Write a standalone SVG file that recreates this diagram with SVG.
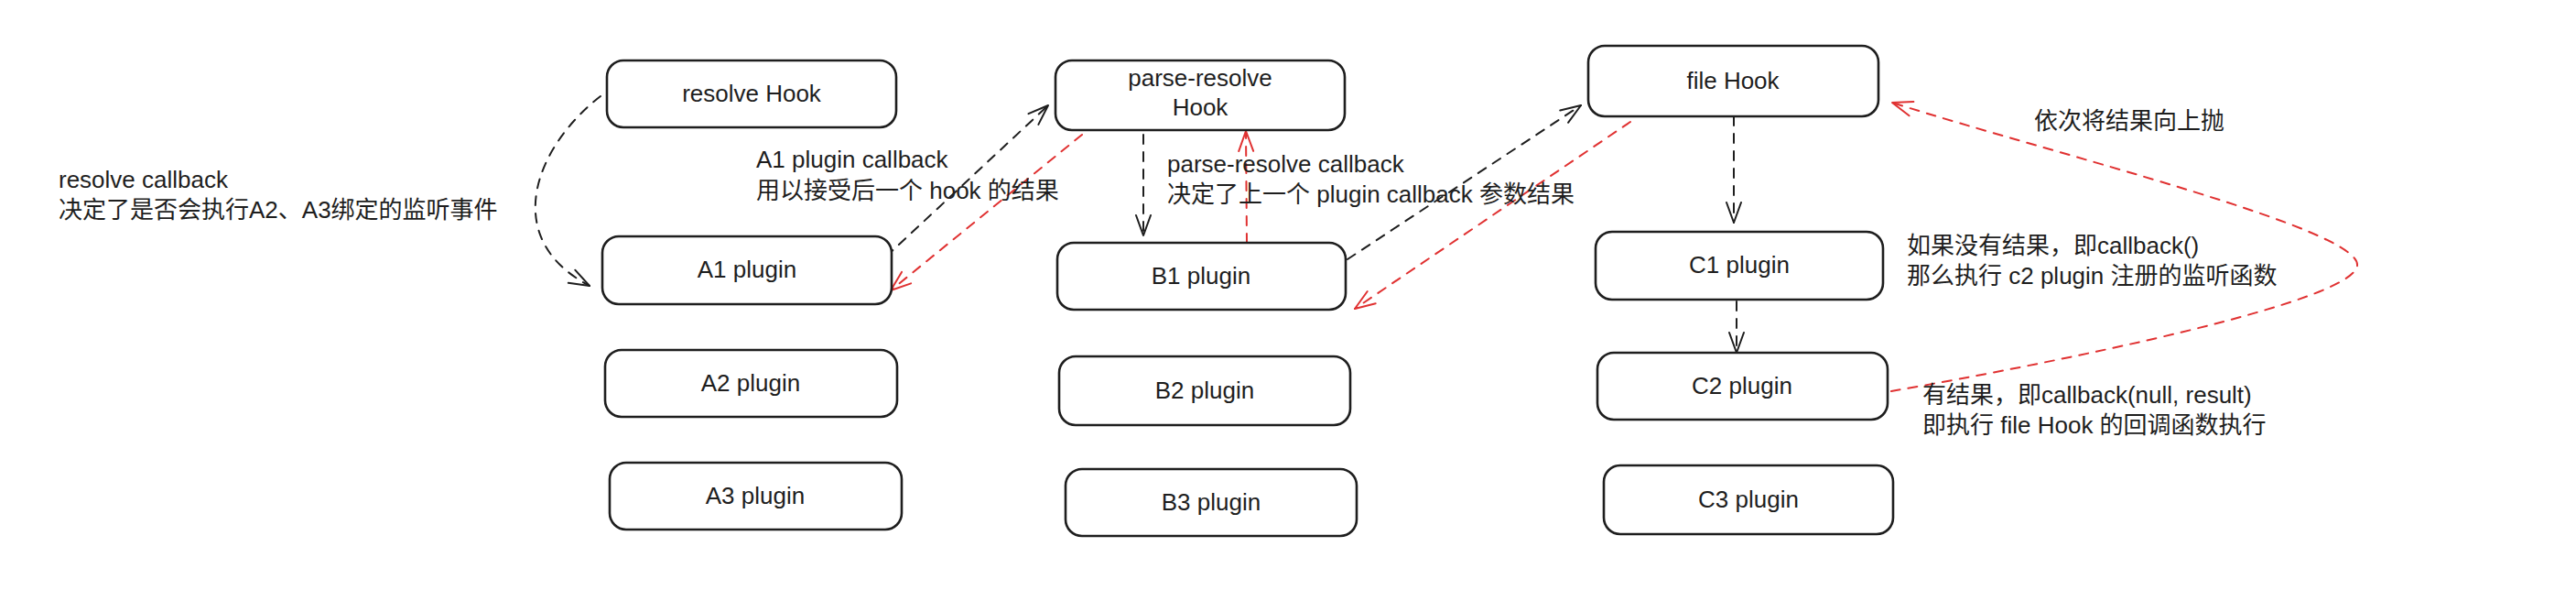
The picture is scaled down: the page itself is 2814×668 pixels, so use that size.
<svg xmlns="http://www.w3.org/2000/svg" width="2814" height="668" viewBox="0 0 2814 668">
<style>
  .box { fill: #ffffff; stroke: #1e1e1e; stroke-width: 2.6; }
  .lbl { font-family: "Liberation Sans", "Noto Sans CJK SC", sans-serif; font-size: 26px; fill: #1e1e1e; text-anchor: middle; }
  .note { font-family: "Liberation Sans", "Noto Sans CJK SC", sans-serif; font-size: 26px; fill: #1e1e1e; }
  .ck { fill: none; stroke: #1e1e1e; stroke-width: 2; stroke-dasharray: 10 9; stroke-linecap: round; }
  .cr { fill: none; stroke: #e03131; stroke-width: 2; stroke-dasharray: 10 9; stroke-linecap: round; }
</style>
<defs>
  <marker id="ahk" markerUnits="userSpaceOnUse" markerWidth="40" markerHeight="40" viewBox="-30 -20 40 40" refX="0" refY="0" orient="auto" overflow="visible">
    <path d="M-22,-8 L0,0 L-22,8" fill="none" stroke="#1e1e1e" stroke-width="2" stroke-linecap="round" stroke-linejoin="round"/>
  </marker>
  <marker id="ahr" markerUnits="userSpaceOnUse" markerWidth="40" markerHeight="40" viewBox="-30 -20 40 40" refX="0" refY="0" orient="auto" overflow="visible">
    <path d="M-22,-8 L0,0 L-22,8" fill="none" stroke="#e03131" stroke-width="2" stroke-linecap="round" stroke-linejoin="round"/>
  </marker>
</defs>
<rect width="2814" height="668" fill="#ffffff"/>

<g id="connectors">
  <path class="ck" d="M656,105 C585,160 545,260 644,312" marker-end="url(#ahk)"/>
  <path class="ck" d="M968,280 L1145,115" marker-end="url(#ahk)"/>
  <path class="cr" d="M1182,147 L973,317" marker-end="url(#ahr)"/>
  <path class="ck" d="M1249,147 L1249,257" marker-end="url(#ahk)"/>
  <path class="cr" d="M1362,265 L1361,143" marker-end="url(#ahr)"/>
  <path class="ck" d="M1472,283 L1727,115" marker-end="url(#ahk)"/>
  <path class="cr" d="M1781,133 L1480,337" marker-end="url(#ahr)"/>
  <path class="ck" d="M1894,127 L1894,243" marker-end="url(#ahk)"/>
  <path class="ck" d="M1897,329 L1897,385" marker-end="url(#ahk)"/>
  <path class="cr" d="M2066,427 C2250,395 2570,330 2575,290 C2580,250 2250,170 2067,112" marker-end="url(#ahr)"/>
</g>

<g id="resolve-hook">
  <rect class="box" x="663" y="66" width="316" height="73" rx="18"/>
  <text class="lbl" x="821" y="111">resolve Hook</text>
</g>
<g id="a1-plugin">
  <rect class="box" x="658" y="258" width="316" height="74" rx="18"/>
  <text class="lbl" x="816" y="303">A1 plugin</text>
</g>
<g id="a2-plugin">
  <rect class="box" x="661" y="382" width="319" height="73" rx="18"/>
  <text class="lbl" x="820" y="427">A2 plugin</text>
</g>
<g id="a3-plugin">
  <rect class="box" x="666" y="505" width="319" height="73" rx="18"/>
  <text class="lbl" x="825" y="550">A3 plugin</text>
</g>

<g id="parse-resolve-hook">
  <rect class="box" x="1153" y="66" width="316" height="76" rx="18"/>
  <text class="lbl" x="1311" y="94">parse-resolve</text>
  <text class="lbl" x="1311" y="126">Hook</text>
</g>
<g id="b1-plugin">
  <rect class="box" x="1155" y="265" width="315" height="73" rx="18"/>
  <text class="lbl" x="1312" y="310">B1 plugin</text>
</g>
<g id="b2-plugin">
  <rect class="box" x="1157" y="389" width="318" height="75" rx="18"/>
  <text class="lbl" x="1316" y="435">B2 plugin</text>
</g>
<g id="b3-plugin">
  <rect class="box" x="1164" y="512" width="318" height="73" rx="18"/>
  <text class="lbl" x="1323" y="557">B3 plugin</text>
</g>

<g id="file-hook">
  <rect class="box" x="1735" y="50" width="317" height="77" rx="18"/>
  <text class="lbl" x="1893" y="97">file Hook</text>
</g>
<g id="c1-plugin">
  <rect class="box" x="1743" y="253" width="314" height="74" rx="18"/>
  <text class="lbl" x="1900" y="298">C1 plugin</text>
</g>
<g id="c2-plugin">
  <rect class="box" x="1745" y="385" width="317" height="73" rx="18"/>
  <text class="lbl" x="1903" y="430">C2 plugin</text>
</g>
<g id="c3-plugin">
  <rect class="box" x="1752" y="508" width="316" height="75" rx="18"/>
  <text class="lbl" x="1910" y="554">C3 plugin</text>
</g>

<g id="notes">
  <text class="note" x="64" y="205">resolve callback</text>
  <text class="note" x="64" y="238">决定了是否会执行A2、A3绑定的监听事件</text>
  <text class="note" x="826" y="183">A1 plugin callback</text>
  <text class="note" x="826" y="217">用以接受后一个 hook 的结果</text>
  <text class="note" x="1275" y="188">parse-resolve callback</text>
  <text class="note" x="1275" y="221">决定了上一个 plugin callback 参数结果</text>
  <text class="note" x="2222" y="141">依次将结果向上抛</text>
  <text class="note" x="2083" y="277">如果没有结果，即callback()</text>
  <text class="note" x="2083" y="310">那么执行 c2 plugin 注册的监听函数</text>
  <text class="note" x="2100" y="440">有结果，即callback(null, result)</text>
  <text class="note" x="2100" y="473">即执行 file Hook 的回调函数执行</text>
</g>
</svg>
